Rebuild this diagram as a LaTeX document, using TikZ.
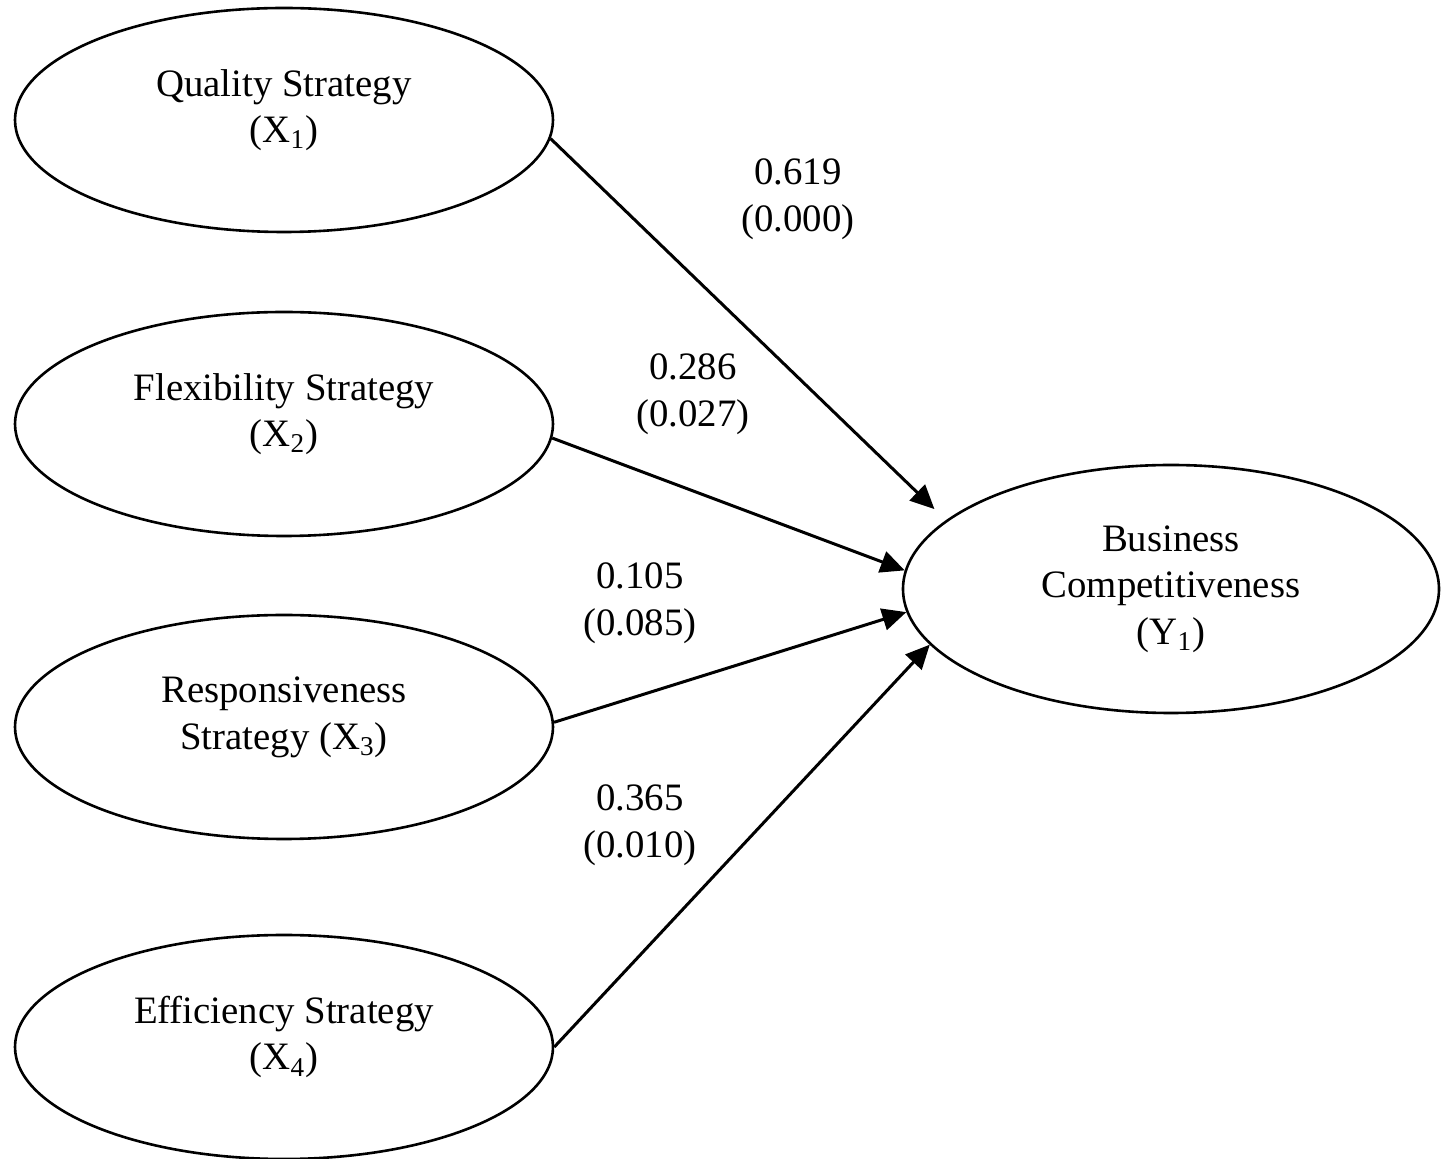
\documentclass[tikz,border=0pt]{standalone}
\usepackage{fontspec}
\setmainfont{Liberation Serif}
\usetikzlibrary{arrows.meta, shapes.geometric}

\tikzset{
	construct/.style={ellipse, draw, line width=1.3pt, inner sep=0pt, align=center,
		minimum width=269pt, minimum height=112pt, font=\fontsize{19.4}{23.3}\selectfont},
	exog/.style={construct, text depth=14pt},
	effect/.style={line width=1.5pt, -{Triangle[length=12pt, width=11pt]}},
	coef/.style={align=center, font=\fontsize{19.4}{23.3}\selectfont},
}

\begin{document}
\begin{tikzpicture}[x=0.5pt, y=-0.5pt]
\useasboundingbox (0,0) rectangle (1442,1159);

% Draw constructs
\node[exog] (quality) at (284,120) {Quality Strategy\\(X\textsubscript{1})};
\node[exog] (flexibility) at (284,424) {Flexibility Strategy\\(X\textsubscript{2})};
\node[exog] (responsiveness) at (284,727) {Responsiveness\\Strategy (X\textsubscript{3})};
\node[exog] (efficiency) at (284,1047) {Efficiency Strategy\\(X\textsubscript{4})};
\node[construct, minimum width=268pt, minimum height=124pt] (business) at (1171,589) {Business\\Competitiveness\\(Y\textsubscript{1})};

% Draw paths
\draw[effect, shorten >=8pt] (quality.-4) -- (business.163);
\draw[effect] (flexibility.-3) -- (business.176);
\draw[effect] (responsiveness.1.5) -- (business.185.5);
\draw[effect] (efficiency.0.5) -- (business.193);

% Path coefficients (p-values)
\node[coef] (coefquality) at (798,199) {0.619\\(0.000)};
\node[coef] (coefflexibility) at (693,394) {0.286\\(0.027)};
\node[coef] (coefresponsiveness) at (640,603) {0.105\\(0.085)};
\node[coef] (coefefficiency) at (640,825) {0.365\\(0.010)};
\end{tikzpicture}
\end{document}
